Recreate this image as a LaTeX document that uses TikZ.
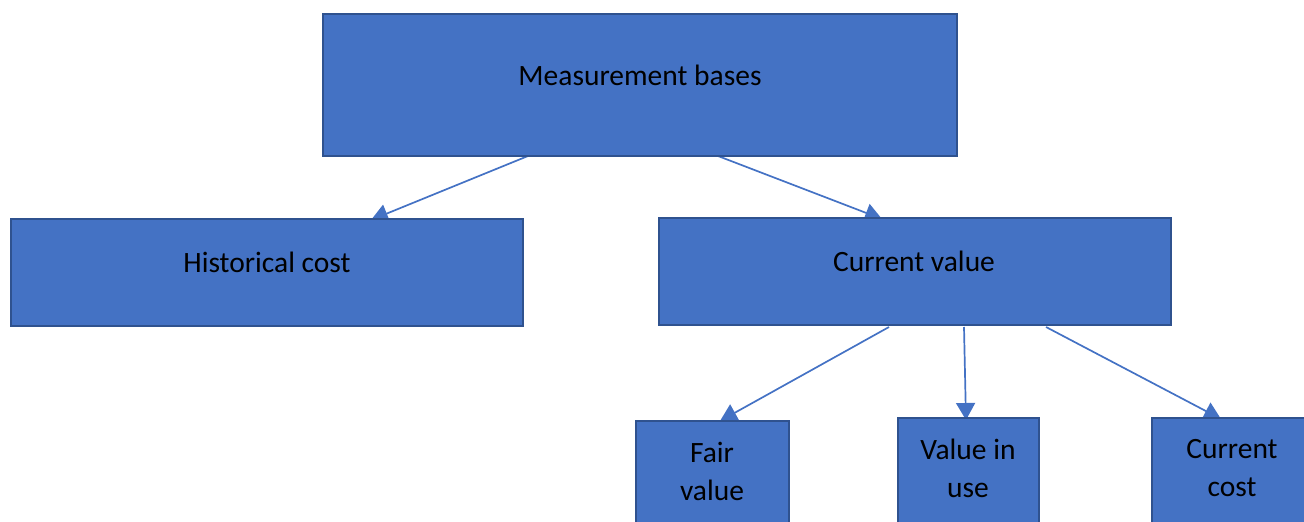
\documentclass[tikz,border=0pt]{standalone}
\usepackage{fontspec}
\setmainfont{Carlito}
\usetikzlibrary{arrows.meta}
\definecolor{boxfill}{HTML}{4472C4}
\definecolor{boxline}{HTML}{2F528F}
\begin{document}
\begin{tikzpicture}[x=1pt,y=-1pt,
  box/.style={draw=boxline,line width=2pt,fill=boxfill},
  lbl/.style={font=\fontsize{29.5}{38}\selectfont,align=center,inner sep=0pt,text=black},
  conn/.style={draw=boxfill,line width=1.7pt,-{Triangle[length=17pt,width=19pt]}}]
\useasboundingbox (0,0) rectangle (1304,522);
\clip (0,0) rectangle (1304,522);
% connector end points
\coordinate (a1s) at (528,156); \coordinate (a1e) at (371,220);
\coordinate (a2s) at (718,156); \coordinate (a2e) at (882,219);
\coordinate (a3s) at (889,327); \coordinate (a3e) at (720,421);
\coordinate (a4s) at (964,327); \coordinate (a4e) at (966,420);
\coordinate (a5s) at (1046,327); \coordinate (a5e) at (1221,419);
\draw[conn] (a1s) -- (a1e);
\draw[conn] (a2s) -- (a2e);
\draw[conn] (a3s) -- (a3e);
\draw[conn] (a4s) -- (a4e);
\draw[conn] (a5s) -- (a5e);
% boxes
\draw[box] (323,14) rectangle (957,156);
\draw[box] (11,219) rectangle (523,326);
\draw[box] (659,218) rectangle (1171,325);
\draw[box] (636,421) rectangle (789,530);
\draw[box] (898,418) rectangle (1039,530);
\draw[box] (1152,418) rectangle (1310,530);
% labels
\node[lbl] (mb) at (640,75) {Measurement bases};
\node[lbl] (hc) at (267,262) {Historical cost};
\node[lbl] (cv) at (914,261) {Current value};
\node[lbl] (fv) at (712,471) {Fair\\value};
\node[lbl] (vu) at (968,468) {Value in\\use};
\node[lbl] (cc) at (1232,468) {Current\\cost};
\end{tikzpicture}
\end{document}
